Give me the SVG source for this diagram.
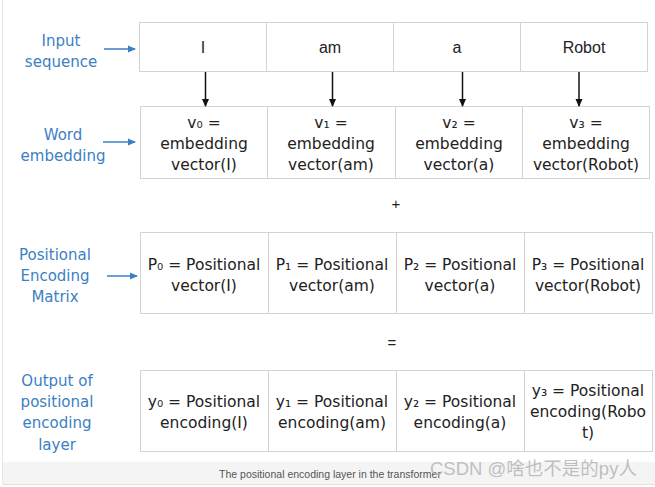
<svg xmlns="http://www.w3.org/2000/svg" width="655" height="487" viewBox="0 0 655 487">
<defs>
<marker id="ab" markerWidth="8" markerHeight="8" refX="7" refY="4" orient="auto" markerUnits="userSpaceOnUse"><path d="M0,0.5 L8,4 L0,7.5 Z" fill="#111"/></marker>
<marker id="abl" markerWidth="8" markerHeight="8" refX="7" refY="4" orient="auto" markerUnits="userSpaceOnUse"><path d="M0,0.5 L8,4 L0,7.5 Z" fill="#3b7fc4"/></marker>
</defs>
<style>
.cell{fill:#fff;stroke:#d3d3d3;stroke-width:1}
.w{font-family:"Liberation Sans",Arial,sans-serif;font-size:16px;fill:#222;text-anchor:middle}
.h{font-family:"DejaVu Sans","Noto Sans",sans-serif;font-size:15.5px;fill:#222;text-anchor:middle}
.lb{font-family:"DejaVu Sans","Noto Sans",sans-serif;font-size:15px;fill:#3b7fc4;text-anchor:middle}
.op{font-family:"Liberation Sans",Arial,sans-serif;font-size:15px;fill:#222;text-anchor:middle}
.ba{stroke:#111;stroke-width:1.5;fill:none;marker-end:url(#ab)}
.bl{stroke:#3b7fc4;stroke-width:1.5;fill:none;marker-end:url(#abl)}
</style>
<rect x="0" y="0" width="655" height="487" fill="#fff"/>
<line x1="2.5" y1="0" x2="2.5" y2="484" stroke="#e6e6e6"/>
<rect x="3" y="462" width="652" height="22" fill="#f4f4f4"/>
<line x1="3" y1="484.5" x2="655" y2="484.5" stroke="#e0e0e0"/>

<g id="label-input"><text class="lb" x="61" y="46">Input</text><text class="lb" x="61" y="67">sequence</text></g>
<g id="label-word"><text class="lb" x="63" y="140">Word</text><text class="lb" x="63" y="161">embedding</text></g>
<g id="label-pos"><text class="lb" x="55" y="260">Positional</text><text class="lb" x="55" y="281">Encoding</text><text class="lb" x="55" y="302">Matrix</text></g>
<g id="label-out"><text class="lb" x="57" y="386">Output of</text><text class="lb" x="57" y="407">positional</text><text class="lb" x="57" y="428">encoding</text><text class="lb" x="57" y="450">layer</text></g>

<g id="row-input">
<rect class="cell" x="139.5" y="22.5" width="127" height="49"/>
<rect class="cell" x="266.5" y="22.5" width="127" height="49"/>
<rect class="cell" x="393.5" y="22.5" width="127" height="49"/>
<rect class="cell" x="520.5" y="22.5" width="127" height="49"/>
<text class="w" x="203" y="53">I</text>
<text class="w" x="330" y="53">am</text>
<text class="w" x="457" y="53">a</text>
<text class="w" x="584" y="53">Robot</text>
</g>

<g id="row-embed">
<rect class="cell" x="140.5" y="106.5" width="127" height="72"/>
<rect class="cell" x="267.5" y="106.5" width="128" height="72"/>
<rect class="cell" x="395.5" y="106.5" width="127" height="72"/>
<rect class="cell" x="522.5" y="106.5" width="127" height="72"/>
<text class="h" x="204" y="128">v₀ =</text><text class="h" x="204" y="149">embedding</text><text class="h" x="204" y="170">vector(I)</text>
<text class="h" x="331" y="128">v₁ =</text><text class="h" x="331" y="149">embedding</text><text class="h" x="331" y="170">vector(am)</text>
<text class="h" x="459" y="128">v₂ =</text><text class="h" x="459" y="149">embedding</text><text class="h" x="459" y="170">vector(a)</text>
<text class="h" x="586" y="128">v₃ =</text><text class="h" x="586" y="149">embedding</text><text class="h" x="586" y="170">vector(Robot)</text>
</g>

<g id="row-pos">
<rect class="cell" x="140.5" y="232.5" width="128" height="81"/>
<rect class="cell" x="268.5" y="232.5" width="128" height="81"/>
<rect class="cell" x="396.5" y="232.5" width="128" height="81"/>
<rect class="cell" x="524.5" y="232.5" width="128" height="81"/>
<text class="h" x="204" y="270">P₀ = Positional</text><text class="h" x="204" y="291">vector(I)</text>
<text class="h" x="332" y="270">P₁ = Positional</text><text class="h" x="332" y="291">vector(am)</text>
<text class="h" x="460" y="270">P₂ = Positional</text><text class="h" x="460" y="291">vector(a)</text>
<text class="h" x="588" y="270">P₃ = Positional</text><text class="h" x="588" y="291">vector(Robot)</text>
</g>

<g id="row-out">
<rect class="cell" x="140.5" y="370.5" width="128" height="81"/>
<rect class="cell" x="268.5" y="370.5" width="128" height="81"/>
<rect class="cell" x="396.5" y="370.5" width="128" height="81"/>
<rect class="cell" x="524.5" y="370.5" width="128" height="81"/>
<text class="h" x="204" y="407">y₀ = Positional</text><text class="h" x="204" y="428">encoding(I)</text>
<text class="h" x="332" y="407">y₁ = Positional</text><text class="h" x="332" y="428">encoding(am)</text>
<text class="h" x="460" y="407">y₂ = Positional</text><text class="h" x="460" y="428">encoding(a)</text>
<text class="h" x="588" y="396">y₃ = Positional</text><text class="h" x="588" y="417">encoding(Robo</text><text class="h" x="588" y="438">t)</text>
</g>

<g id="operators">
<text class="op" x="396" y="209">+</text>
<text class="op" x="392" y="348">=</text>
</g>

<g id="connectors">
<line class="bl" x1="104" y1="49" x2="135" y2="49"/>
<line class="bl" x1="103" y1="142" x2="135" y2="142"/>
<line class="bl" x1="107" y1="276" x2="137" y2="276"/>
<line class="ba" x1="205.5" y1="72" x2="205.5" y2="106"/>
<line class="ba" x1="332.5" y1="72" x2="332.5" y2="106"/>
<line class="ba" x1="462.5" y1="72" x2="462.5" y2="106"/>
<line class="ba" x1="579" y1="72" x2="579" y2="106"/>
</g>

<text x="330" y="478" font-family="Liberation Sans,Arial,sans-serif" font-size="10.5" fill="#555" text-anchor="middle">The positional encoding layer in the transformer</text>
<text x="430" y="475" font-family="Liberation Sans,'Noto Sans CJK SC',sans-serif" font-size="18.5" fill="#b5b5b5" fill-opacity="0.85">CSDN @啥也不是的py人</text>
</svg>
